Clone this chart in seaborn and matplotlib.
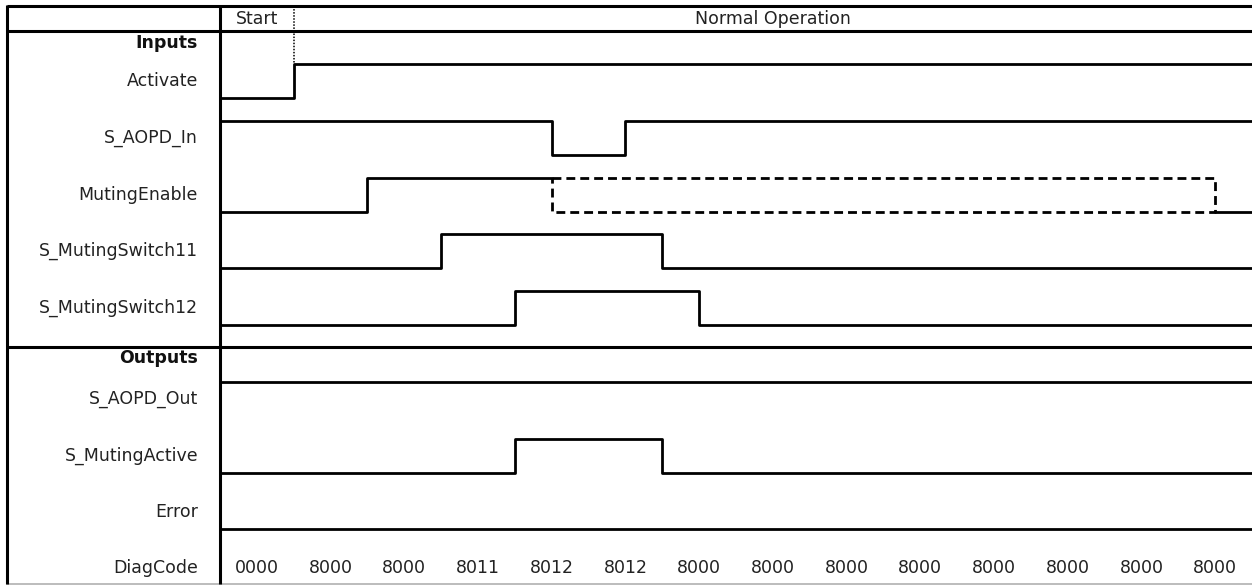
import numpy as np
import pandas as pd
import matplotlib
matplotlib.use("Agg")
import matplotlib.pyplot as plt
import seaborn as sns

# ---- data ----
n_cells = 14
phases = ["Start", "Normal Operation"]
phase_start = [0, 1]
phase_end = [1, 14]

activate_t = [0, 1, 14]
activate_v = [0, 1, 1]

aopd_in_t = [0, 4.5, 5.5, 14]
aopd_in_v = [1, 0, 1, 1]

muting_enable_t = [0, 2, 4.5]
muting_enable_v = [0, 1, 1]
muting_enable_unknown = [4.5, 13.5]   # either state possible (dashed)
muting_enable_tail_t = [13.5, 14]
muting_enable_tail_v = [0, 0]

sw11_t = [0, 3, 6, 14]
sw11_v = [0, 1, 0, 0]

sw12_t = [0, 4, 6.5, 14]
sw12_v = [0, 1, 0, 0]

aopd_out_t = [0, 14]
aopd_out_v = [1, 1]

muting_active_t = [0, 4, 6, 14]
muting_active_v = [0, 1, 0, 0]

error_t = [0, 14]
error_v = [0, 0]

diag_codes = ["0000", "8000", "8000", "8011", "8012", "8012", "8000",
              "8000", "8000", "8000", "8000", "8000", "8000", "8000"]

# ---- layout (pixels) ----
W, H = 1252, 585
x_div = 220
row_h = 57
rows = {
    "Activate": 81, "S_AOPD_In": 138, "MutingEnable": 195,
    "S_MutingSwitch11": 251, "S_MutingSwitch12": 308,
    "S_AOPD_Out": 399, "S_MutingActive": 455.5, "Error": 512, "DiagCode": 568,
}
group_labels = {"Inputs": 43, "Outputs": 358}

sns.set_theme(style="white")
plt.rcParams["font.family"] = ["DejaVu Sans"]
fs = 12.5
txt_col = "#222222"

fig = plt.figure(figsize=(W / 100, H / 100), dpi=100)

# background axes in pixel coordinates for the table frame
bg = fig.add_axes([0, 0, 1, 1])
bg.set_xlim(0, W)
bg.set_ylim(H, 0)
bg.axis("off")

thick = dict(color="black", lw=2.2, solid_capstyle="butt")
bg.plot([7, W], [6, 6], **thick)
bg.plot([7, W], [31, 31], **thick)
bg.plot([7, W], [347, 347], **thick)
bg.plot([7, W], [583.5, 583.5], color="#b0b0b0", lw=1.2)
bg.plot([7, 7], [5, 584], **thick)
bg.plot([x_div, x_div], [5, 584], **thick)

for name, y in rows.items():
    bg.text(198, y, name, ha="right", va="center", fontsize=fs, color=txt_col)
for name, y in group_labels.items():
    bg.text(198, y, name, ha="right", va="center", fontsize=fs,
            fontweight="bold", color="#111111")


def row_axes(center, pad=(row_h / 2 - 17) / 34):
    ax = fig.add_axes([x_div / W, (H - center - row_h / 2) / H,
                       (W - x_div) / W, row_h / H])
    ax.set_xlim(0, n_cells)
    ax.set_ylim(-pad, 1 + pad)
    ax.axis("off")
    ax.patch.set_alpha(0)
    return ax


def wave(ax, t, v, **kw):
    df = pd.DataFrame({"t": t, "v": v})
    sns.lineplot(data=df, x="t", y="v", ax=ax, color="black", lw=2.0,
                 estimator=None, sort=False, drawstyle="steps-post", **kw)


# header axes (phases)
hdr = fig.add_axes([x_div / W, (H - 31) / H, (W - x_div) / W, 25 / H])
hdr.set_xlim(0, n_cells)
hdr.set_ylim(0, 1)
hdr.axis("off")
hdr.patch.set_alpha(0)
for name, a, b in zip(phases, phase_start, phase_end):
    hdr.text((a + b) / 2, 0.5, name, ha="center", va="center",
             fontsize=fs, color=txt_col)
# dotted marker at end of start phase, from top border down to Activate
hdr.plot([phase_end[0], phase_end[0]], [1, -1.32], color="black", lw=1.1,
         ls=(0, (1, 1)), clip_on=False)

ax = row_axes(rows["Activate"])
wave(ax, activate_t, activate_v)

wave(row_axes(rows["S_AOPD_In"]), aopd_in_t, aopd_in_v)

ax = row_axes(rows["MutingEnable"])
wave(ax, muting_enable_t, muting_enable_v)
a, b = muting_enable_unknown
box = pd.DataFrame({"t": [a, b, b, a, a], "v": [1, 1, 0, 0, 1]})
sns.lineplot(data=box, x="t", y="v", ax=ax, color="black", lw=2.0,
             estimator=None, sort=False, dashes=False)
ax.lines[-1].set_linestyle((0, (3.2, 1.8)))
wave(ax, muting_enable_tail_t, muting_enable_tail_v)

wave(row_axes(rows["S_MutingSwitch11"]), sw11_t, sw11_v)
wave(row_axes(rows["S_MutingSwitch12"]), sw12_t, sw12_v)
wave(row_axes(rows["S_AOPD_Out"]), aopd_out_t, aopd_out_v)
wave(row_axes(rows["S_MutingActive"]), muting_active_t, muting_active_v)
wave(row_axes(rows["Error"]), error_t, error_v)

ax = row_axes(rows["DiagCode"])
for i, code in enumerate(diag_codes):
    ax.text(i + 0.5, 0.5, code, ha="center", va="center",
            fontsize=fs, color=txt_col)

fig.savefig("out.png", dpi=100)
